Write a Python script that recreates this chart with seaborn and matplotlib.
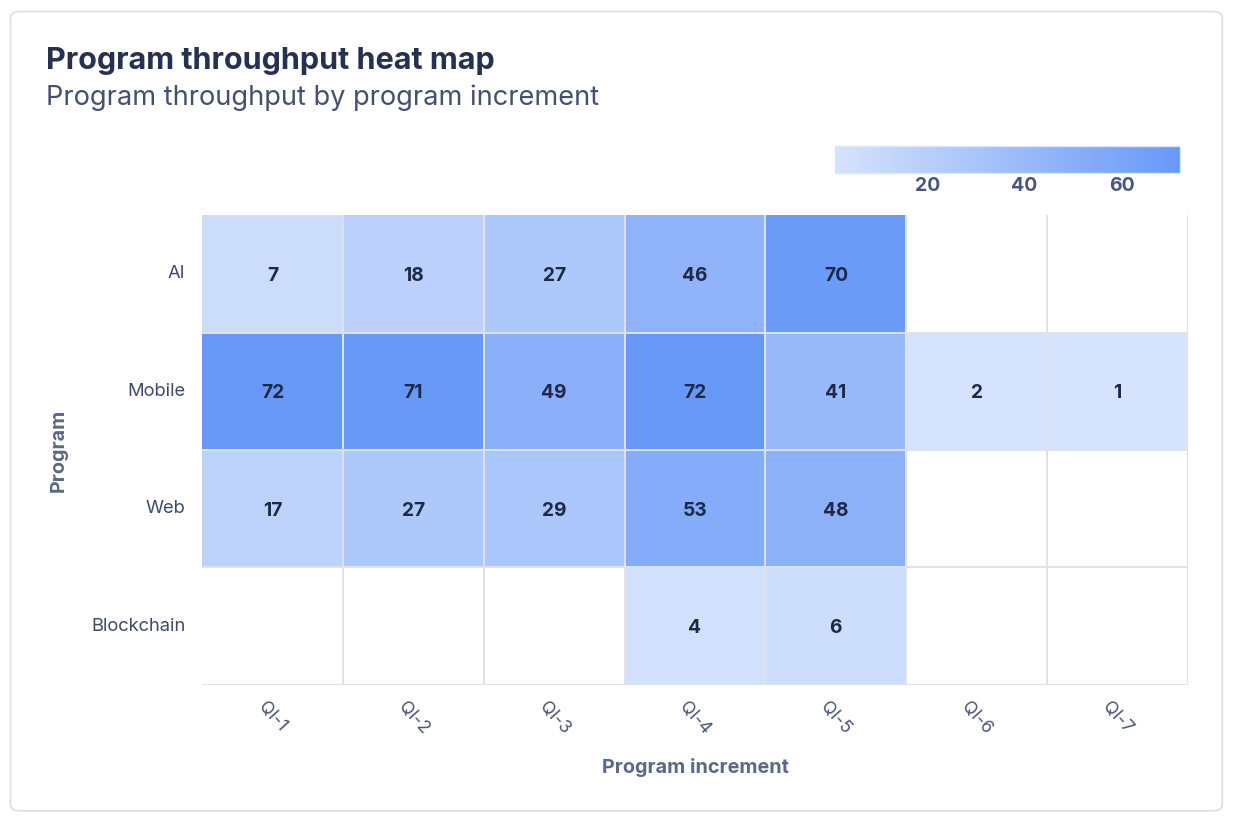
import numpy as np
import pandas as pd
import matplotlib
matplotlib.use("Agg")
import matplotlib.pyplot as plt
import seaborn as sns
from matplotlib.colors import LinearSegmentedColormap
from matplotlib.patches import FancyBboxPatch

programs = ["AI", "Mobile", "Web", "Blockchain"]
increments = ["QI-1", "QI-2", "QI-3", "QI-4", "QI-5", "QI-6", "QI-7"]

ai = [7, 18, 27, 46, 70, np.nan, np.nan]
mobile = [72, 71, 49, 72, 41, 2, 1]
web = [17, 27, 29, 53, 48, np.nan, np.nan]
blockchain = [np.nan, np.nan, np.nan, 4, 6, np.nan, np.nan]

data = pd.DataFrame([ai, mobile, web, blockchain], index=programs, columns=increments)

sns.set_style("white")
plt.rcParams["font.family"] = ["Inter", "DejaVu Sans"]

cmap = LinearSegmentedColormap.from_list("blues", ["#d5e3fc", "#6898f7"])

fig = plt.figure(figsize=(12.34, 8.22), dpi=100)
ax = fig.add_axes([0.1637, 0.1667, 0.799, 0.5717])
cax = fig.add_axes([0.6767, 0.7895, 0.2796, 0.0328])

sns.heatmap(data, ax=ax, cmap=cmap, vmin=1, vmax=72, annot=True, fmt=".0f",
            annot_kws={"fontsize": 13.8, "fontweight": "bold", "color": "#1e2948",
                       "va": "center_baseline"},
            linewidths=0,
            cbar_ax=cax, cbar_kws={"orientation": "horizontal", "ticks": [20, 40, 60]})
cbar = ax.collections[0].colorbar

# cell borders / grid (no top and left edge)
ax.vlines(range(1, len(increments) + 1), 0, len(programs), color="#e1e2e7", lw=1.4, zorder=2)
ax.hlines(range(1, len(programs) + 1), 0, len(increments), color="#e1e2e7", lw=1.4, zorder=2)

ax.set_xlim(0, len(increments))
ax.set_ylim(len(programs), 0)
for s in ax.spines.values():
    s.set_visible(False)

ax.tick_params(axis="both", length=0)
ax.tick_params(axis="x", pad=10, labelsize=12.8, labelcolor="#4a5578")
ax.tick_params(axis="y", pad=12, labelsize=13.2, labelcolor="#3d4a6b")
plt.setp(ax.get_xticklabels(), rotation=-48)
plt.setp(ax.get_yticklabels(), rotation=0)

ax.set_xlabel("Program increment", fontsize=14.3, fontweight="bold", color="#5d6885", labelpad=14)
ax.set_ylabel("Program", fontsize=14.3, fontweight="bold", color="#5d6885", labelpad=17)

cbar.outline.set_edgecolor("#dbe6fc")
cbar.outline.set_linewidth(1)
cax.tick_params(length=0, pad=3, labelsize=14, labelcolor="#4a5578")
for t in cax.get_xticklabels():
    t.set_fontweight("bold")

fig.text(0.0373, 0.916, "Program throughput heat map", fontsize=22, fontweight="bold",
         color="#263151", ha="left", va="baseline")
fig.text(0.0373, 0.872, "Program throughput by program increment", fontsize=19.6,
         color="#45506f", ha="left", va="baseline")

card = FancyBboxPatch((0.0085, 0.0135), 0.982, 0.9725, boxstyle="round,pad=0,rounding_size=0.008",
                      transform=fig.transFigure, facecolor="none", edgecolor="#dfe0e4", lw=1.3)
fig.patches.append(card)

fig.savefig("out.png", dpi=100)
